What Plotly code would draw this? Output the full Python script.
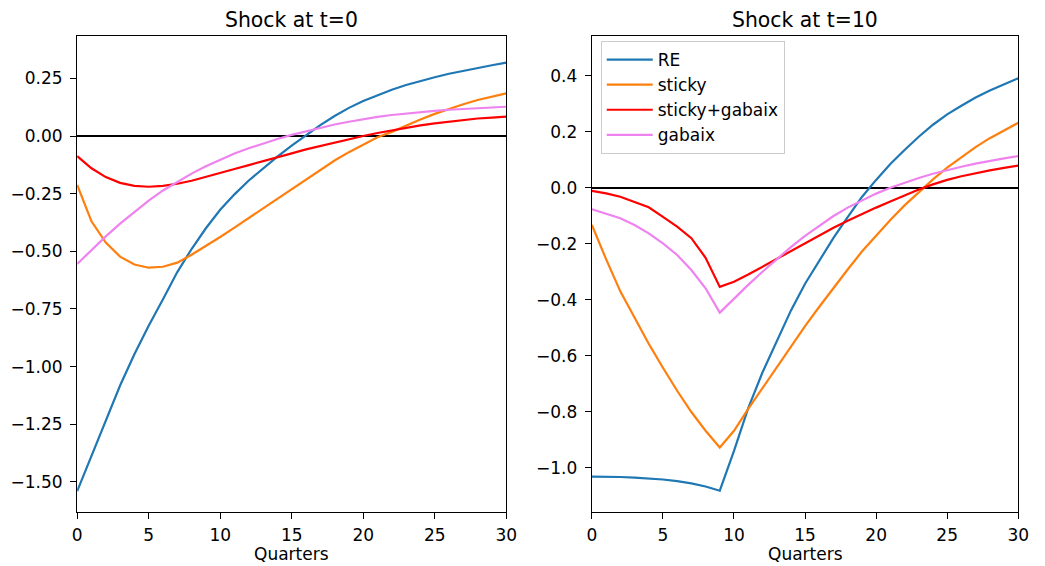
import plotly.graph_objects as go

quarters = list(range(31))
x_ticks = [0, 5, 10, 15, 20, 25, 30]

# Shock at t=0
re_t0 = [-1.54, -1.385, -1.232, -1.082, -0.946, -0.823, -0.708, -0.59, -0.49, -0.40,
         -0.32, -0.253, -0.193, -0.139, -0.089, -0.042, 0.003, 0.047, 0.087, 0.122,
         0.152, 0.178, 0.201, 0.221, 0.239, 0.255, 0.27, 0.283, 0.295, 0.307, 0.318]
sticky_t0 = [-0.212, -0.37, -0.462, -0.523, -0.557, -0.571, -0.567, -0.549, -0.515, -0.478,
             -0.438, -0.397, -0.355, -0.313, -0.271, -0.229, -0.188, -0.146, -0.106, -0.07,
             -0.036, -0.005, 0.018, 0.046, 0.072, 0.096, 0.118, 0.138, 0.156, 0.171, 0.185]
stgab_t0 = [-0.087, -0.14, -0.178, -0.203, -0.216, -0.22, -0.216, -0.207, -0.194, -0.178,
            -0.161, -0.143, -0.126, -0.11, -0.093, -0.075, -0.058, -0.043, -0.028, -0.014,
            0.0, 0.013, 0.025, 0.036, 0.046, 0.055, 0.063, 0.07, 0.076, 0.08, 0.084]
gabaix_t0 = [-0.555, -0.494, -0.435, -0.38, -0.328, -0.28, -0.236, -0.198, -0.163, -0.131,
             -0.102, -0.076, -0.053, -0.032, -0.013, 0.005, 0.021, 0.036, 0.05, 0.062,
             0.073, 0.083, 0.091, 0.098, 0.104, 0.109, 0.114, 0.118, 0.121, 0.124, 0.127]

# Shock at t=10
re_t10 = [-1.032, -1.032, -1.033, -1.035, -1.038, -1.042, -1.048, -1.056, -1.067, -1.082,
          -0.94, -0.787, -0.66, -0.547, -0.439, -0.343, -0.259, -0.179, -0.105, -0.033,
          0.028, 0.085, 0.135, 0.182, 0.225, 0.262, 0.293, 0.322, 0.347, 0.37, 0.391]
sticky_t10 = [-0.133, -0.255, -0.37, -0.465, -0.557, -0.643, -0.725, -0.801, -0.868, -0.928,
              -0.868, -0.79, -0.715, -0.64, -0.566, -0.494, -0.425, -0.357, -0.292, -0.228,
              -0.17, -0.115, -0.063, -0.015, 0.03, 0.072, 0.11, 0.145, 0.177, 0.206, 0.232]
stgab_t10 = [-0.011, -0.02, -0.032, -0.05, -0.07, -0.104, -0.139, -0.18, -0.25, -0.354,
             -0.336, -0.31, -0.282, -0.254, -0.226, -0.198, -0.17, -0.143, -0.118, -0.094,
             -0.071, -0.049, -0.028, -0.006, 0.012, 0.028, 0.041, 0.052, 0.062, 0.071, 0.079]
gabaix_t10 = [-0.077, -0.092, -0.109, -0.133, -0.163, -0.199, -0.24, -0.294, -0.359, -0.446,
              -0.396, -0.347, -0.3, -0.255, -0.212, -0.172, -0.135, -0.101, -0.071, -0.045,
              -0.021, 0.0, 0.018, 0.035, 0.05, 0.063, 0.075, 0.086, 0.096, 0.105, 0.113]

names = ["RE", "sticky", "sticky+gabaix", "gabaix"]
colors = ["#1f77b4", "#ff7f0e", "#ff0000", "#ee82ee"]
left_series = [re_t0, sticky_t0, stgab_t0, gabaix_t0]
right_series = [re_t10, sticky_t10, stgab_t10, gabaix_t10]
titles = ["Shock at t=0", "Shock at t=10"]

W, H = 1045, 566
FONT = "DejaVu Sans, Liberation Sans, sans-serif"
FS = 17

fig = go.Figure()
for n, c, ys in zip(names, colors, left_series):
    fig.add_trace(go.Scatter(x=quarters, y=ys, mode="lines", name=n,
                             line=dict(color=c, width=2.2), showlegend=False,
                             xaxis="x", yaxis="y"))
for n, c, ys in zip(names, colors, right_series):
    fig.add_trace(go.Scatter(x=quarters, y=ys, mode="lines", name=n,
                             line=dict(color=c, width=2.2), showlegend=True,
                             xaxis="x2", yaxis="y2"))

ax_common = dict(showline=True, linecolor="black", linewidth=1.3, mirror=True,
                 ticks="outside", ticklen=6, tickwidth=1.3, tickcolor="black",
                 showgrid=False, tickfont=dict(family=FONT, size=FS, color="black"))

y_top, y_bot = 35.7, 511.7
ydom = [1 - y_bot / H, 1 - y_top / H]

fig.update_layout(
    width=W, height=H, margin=dict(l=0, r=0, t=0, b=0),
    paper_bgcolor="white", plot_bgcolor="white",
    font=dict(family=FONT, size=FS, color="black"),
    xaxis=dict(domain=[73.3 / W, 509 / W], range=[0, 30], tickvals=x_ticks,
               zeroline=False, anchor="y", ticklabelstandoff=2, **ax_common),
    yaxis=dict(domain=ydom, range=[-1.629, 0.435], tickvals=[-1.5, -1.25, -1.0, -0.75, -0.5, -0.25, 0.0, 0.25],
               tickformat=".2f", zeroline=True, zerolinecolor="black", zerolinewidth=2.2,
               anchor="x", ticklabelstandoff=4, **ax_common),
    xaxis2=dict(domain=[596 / W, 1029 / W], range=[0, 30], tickvals=x_ticks,
                zeroline=False, anchor="y2", ticklabelstandoff=2, **ax_common),
    yaxis2=dict(domain=ydom, range=[-1.157, 0.543], tickvals=[-1.0, -0.8, -0.6, -0.4, -0.2, 0.0, 0.2, 0.4],
                tickformat=".1f", zeroline=True, zerolinecolor="black", zerolinewidth=2.2,
                anchor="x2", ticklabelstandoff=4, **ax_common),
    legend=dict(x=605 / W, y=1 - 41 / H, xanchor="left", yanchor="top",
                bgcolor="rgba(255,255,255,0.8)", bordercolor="#cccccc", borderwidth=1,
                font=dict(family=FONT, size=FS, color="black"), tracegroupgap=0,
                itemwidth=46),
)

for xr, t in zip(["x domain", "x2 domain"], titles):
    fig.add_annotation(text=t, xref=xr, yref="paper", x=0.5, y=1 - 20 / H,
                       showarrow=False, xanchor="center", yanchor="middle",
                       font=dict(family=FONT, size=20.4, color="black"))
    fig.add_annotation(text="Quarters", xref=xr, yref="paper", x=0.5, y=1 - 554 / H,
                       showarrow=False, xanchor="center", yanchor="middle",
                       font=dict(family=FONT, size=FS, color="black"))

fig.write_html("out.html")
